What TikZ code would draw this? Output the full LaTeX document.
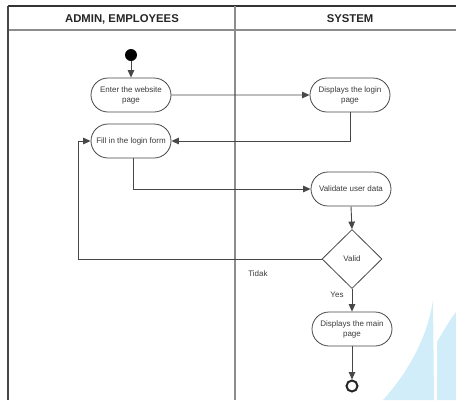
\documentclass[tikz,border=0pt]{standalone}
\usepackage{fontspec}
\setmainfont{Liberation Sans}
\usetikzlibrary{arrows.meta,shapes.misc,shapes.geometric}
\definecolor{linec}{HTML}{474747}
\definecolor{txtc}{HTML}{3A3A3A}
\definecolor{lanec}{HTML}{8C8C8C}
\definecolor{wmc}{HTML}{D0EDF9}
\begin{document}
\begin{tikzpicture}[x=1pt,y=-1pt,
  act/.style={rounded rectangle, draw=linec, line width=0.8pt, minimum width=82pt, minimum height=34pt,
    align=center, font=\fontsize{8}{10}\selectfont, text=txtc, inner sep=1pt},
  flow/.style={draw=linec, line width=0.9pt, -{Triangle[length=7.5pt,width=6.5pt]}},
  hdr/.style={font=\bfseries\fontsize{11.3}{13}\selectfont, text=black!85},
  lbl/.style={font=\fontsize{8}{9}\selectfont, text=txtc, inner sep=0pt},
  lane/.style={draw=lanec, line width=1.3pt}]
\useasboundingbox (0,0) rectangle (456,400);
% watermark
\fill[wmc] (383,400) .. controls (410,370) and (428,335) .. (433,300) -- (434,400) -- cycle;
\fill[wmc] (437,400) -- (437,342) .. controls (444,330) and (451,318) .. (456,312) -- (456,400) -- cycle;
% swimlanes
\draw[draw=black!80, line width=1.2pt] (8,6) -- (456,6);
\draw[lane] (8,30) -- (456,30);
\draw[draw=linec, line width=1.1pt] (8,6) -- (8,400);
\draw[lane] (235,6) -- (235,400);
\node[hdr] (h1) at (122,19) {ADMIN, EMPLOYEES};
\node[hdr] (h2) at (350,19) {SYSTEM};
% nodes
\node[circle, fill=black, minimum size=12pt, inner sep=0pt] (start) at (131,55) {};
\node[act] (enter) at (131,95) {Enter the website\\page};
\node[act] (disp) at (350,95) {Displays the login\\page};
\node[act] (fill) at (131,141) {Fill in the login form};
\node[act] (valid) at (351,189) {Validate user data};
\node[diamond, draw=linec, line width=0.8pt, minimum width=60pt, minimum height=59pt, inner sep=0pt,
  font=\fontsize{8}{9}\selectfont, text=txtc] (dec) at (352,259) {Valid};
\node[act] (main) at (352,329) {Displays the main\\page};
\node[circle, draw=black!85, line width=2pt, minimum size=11pt, inner sep=0pt] (end) at (352,386) {};
\coordinate (loop) at (78,259);
% labels
\node[lbl] (tidak) at (258,274) {Tidak};
\node[lbl] (yes) at (337,295) {Yes};
% connectors
\draw[flow] (start) -- (enter);
\draw[flow] (enter) -- (disp);
\draw[flow] (disp.south) |- (fill.east);
\draw[flow] ([xshift=2pt]fill.south) |- (valid.west);
\draw[flow] (valid.south) -- (dec.north);
\draw[flow] (dec.west) -- (loop) |- (fill.west);
\draw[flow] (dec.south) -- (main.north);
\draw[flow] (main.south) -- (end.north);
\end{tikzpicture}
\end{document}
